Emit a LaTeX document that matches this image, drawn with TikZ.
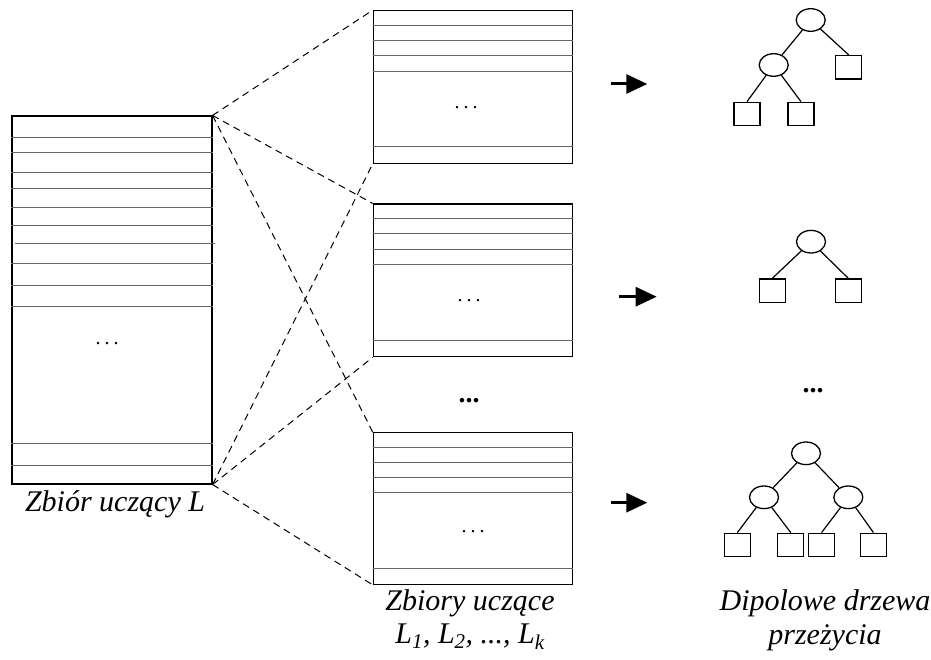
\documentclass[tikz,border=0pt]{standalone}
\usepackage{fontspec}
\setmainfont{Liberation Serif}
\usetikzlibrary{shapes.geometric,arrows.meta}
\begin{document}
\begin{tikzpicture}[x=1pt,y=-1pt,
  listbox/.style={draw=black,line width=1.15pt,rectangle,inner sep=0pt},
  row/.style={draw=black!60,line width=1pt},
  conn/.style={draw=black,line width=1pt,dash pattern=on 7pt off 5pt},
  bigarrow/.style={draw=black,line width=3pt,-{Triangle[length=21pt,width=19pt]}},
  inner/.style={ellipse,draw=black,line width=1.3pt,minimum width=29pt,minimum height=22.6pt,inner sep=0pt},
  leaf/.style={rectangle,draw=black,line width=1.3pt,minimum width=26pt,minimum height=23.4pt,inner sep=0pt},
  edge/.style={draw=black,line width=1.2pt},
  lab/.style={font=\fontsize{30}{36}\selectfont\itshape,anchor=base,inner sep=0pt},
  smalldots/.style={font=\fontsize{20}{22}\selectfont,inner sep=0pt},
  bigdots/.style={font=\fontsize{28}{30}\selectfont\bfseries,inner sep=0pt}
]
\useasboundingbox (0,0) rectangle (931,660);

% big set L
\node[listbox,minimum width=200pt,minimum height=368pt] (L) at (112,300) {};
\foreach \yy in {137.3,152.7,172.3,188.7,207.3,225.7,263.3,285,306.3,443.3,465}
  \draw[row] (L.west |- 0,\yy) -- (L.east |- 0,\yy);
\draw[row] (15,243.3) -- (215,243.3);
\node[smalldots] (Ld) at (107,344) {.\hspace{4pt}.\hspace{4pt}.};
\node[lab] (Llab) at (115,511) {Zbiór uczący L};

% subsets
\node[listbox,minimum width=199.4pt,minimum height=152.6pt] (B1) at (473,87) {};
\foreach \yy in {25.7,40.7,56,71.3,146.7}
  \draw[row] (B1.west |- 0,\yy) -- (B1.east |- 0,\yy);
\node[smalldots] (B1d) at (466,108) {.\hspace{4pt}.\hspace{4pt}.};

\node[listbox,minimum width=199.4pt,minimum height=152.7pt] (B2) at (473,280.4) {};
\foreach \yy in {219,234,249.3,264.7,340}
  \draw[row] (B2.west |- 0,\yy) -- (B2.east |- 0,\yy);
\node[smalldots] (B2d) at (469,300.5) {.\hspace{4pt}.\hspace{4pt}.};

\node[listbox,minimum width=199.4pt,minimum height=151.6pt] (B3) at (473,508.5) {};
\foreach \yy in {447.3,462.3,477.7,492.7,568.3}
  \draw[row] (B3.west |- 0,\yy) -- (B3.east |- 0,\yy);
\node[smalldots] (B3d) at (473,532) {.\hspace{4pt}.\hspace{4pt}.};

\node[bigdots] (Md) at (469,401) {...};
\node[lab] (Blab1) at (470,610) {Zbiory uczące};
\node[lab] (Blab2) at (470,643) {L\textsubscript{1}, L\textsubscript{2}, ..., L\textsubscript{k}};

% dashed connectors
\foreach \b in {B1,B2,B3}{
  \draw[conn] (L.north east) -- (\b.north west);
  \draw[conn] (L.south east) -- (\b.south west);
}

% arrows
\coordinate (a1s) at (610.7,84);   \coordinate (a1e) at (647.3,84);
\coordinate (a2s) at (619,296.7);  \coordinate (a2e) at (656.7,296.7);
\coordinate (a3s) at (610.7,502.7);\coordinate (a3e) at (647.3,502.7);
\draw[bigarrow] (a1s) -- (a1e);
\draw[bigarrow] (a2s) -- (a2e);
\draw[bigarrow] (a3s) -- (a3e);

% tree 1
\node[inner] (t1r) at (810.7,20) {};
\node[inner] (t1c) at (773.7,65) {};
\node[leaf] (t1l3) at (848.7,67.3) {};
\node[leaf] (t1l1) at (747,114) {};
\node[leaf] (t1l2) at (801,114) {};
\draw[edge] (t1r) -- (t1c);
\draw[edge] (t1r) -- (t1l3.north);
\draw[edge] (t1c) -- (t1l1.north);
\draw[edge] (t1c) -- (t1l2.north);

% tree 2
\node[inner] (t2r) at (811,241.7) {};
\node[leaf] (t2l1) at (772.3,290.7) {};
\node[leaf] (t2l2) at (848.3,290.7) {};
\draw[edge] (t2r) -- (t2l1.north);
\draw[edge] (t2r) -- (t2l2.north);

\node[bigdots] (Rd) at (813,391) {...};

% tree 3
\node[inner] (t3r) at (806,453.3) {};
\node[inner] (t3a) at (764,497.3) {};
\node[inner] (t3b) at (848.3,497.3) {};
\node[leaf] (t3l1) at (737.3,545) {};
\node[leaf] (t3l2) at (790.8,545) {};
\node[leaf] (t3l3) at (821.5,545) {};
\node[leaf] (t3l4) at (873.5,545) {};
\draw[edge] (t3r) -- (t3a);
\draw[edge] (t3r) -- (t3b);
\draw[edge] (t3a) -- (t3l1.north);
\draw[edge] (t3a) -- (t3l2.north);
\draw[edge] (t3b) -- (t3l3.north);
\draw[edge] (t3b) -- (t3l4.north);

\node[lab] (Dlab1) at (825,610) {Dipolowe drzewa};
\node[lab] (Dlab2) at (825,644) {przeżycia};
\end{tikzpicture}
\end{document}
